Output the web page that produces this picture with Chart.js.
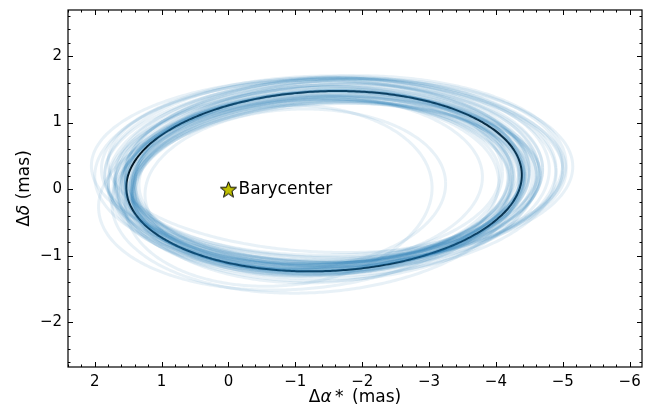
<!DOCTYPE html>
<html>
<head>
<meta charset="utf-8">
<script src="https://cdn.jsdelivr.net/npm/chart.js@4.4.1/dist/chart.umd.min.js"></script>
<style>
  html, body { margin: 0; padding: 0; background: #fff; }
  #wrap { width: 652px; height: 413px; }
</style>
</head>
<body>
<div id="wrap"><canvas id="orbit"></canvas></div>
<script>
// axis ticks (mas)
const xTicks = [2, 1, 0, -1, -2, -3, -4, -5, -6]
const yTicks = [-2, -1, 0, 1, 2]
const xRange = [-6.185, 2.40]
const yRange = [-2.67, 2.69]

// posterior orbit draws: centre, semi-axes along RA / Dec, tilt (rad)
const orbitCx   = [-1.45, -1.30, -1.50, -1.60, -1.40, -1.55, -1.65, -1.50, -1.20, -1.35, -1.70, -1.45, -1.25, -1.80, -1.40, -1.55, -1.10, -1.00, -0.75, -1.30, -1.60, -1.45, -1.35, -1.50, -1.75, -1.40, -1.30, -1.55, -1.05, -1.60,
                   -1.48, -1.38, -1.52, -1.42, -1.58, -1.33, -1.47, -1.62, -1.44, -1.36, -1.55, -1.50, -1.28, -1.66, -1.41, -1.53, -1.46, -1.39,
                   -1.43, -1.40, -1.47, -1.38, -1.45, -1.50, -1.35, -1.42]
const orbitCy   = [0.20, 0.15, 0.25, 0.22, 0.18, 0.30, 0.28, 0.32, 0.15, 0.10, 0.20, 0.12, 0.22, 0.25, 0.05, 0.18, 0.10, 0.00, -0.10, -0.05, 0.35, 0.26, 0.20, 0.15, 0.30, 0.24, 0.08, 0.20, -0.08, 0.12,
                   0.10, 0.14, 0.08, 0.05, 0.16, 0.10, 0.12, 0.15, 0.06, 0.10, 0.18, 0.04, 0.12, 0.14, 0.08, 0.20, 0.02, 0.10,
                   0.12, 0.15, 0.10, 0.13, 0.18, 0.12, 0.08, 0.16]
const orbitA    = [3.05, 3.10, 3.20, 3.30, 2.95, 3.45, 3.50, 3.55, 2.90, 3.00, 3.10, 3.15, 3.25, 3.20, 2.85, 3.35, 2.70, 2.25, 2.30, 3.05, 3.40, 3.00, 3.15, 3.05, 3.30, 3.25, 2.95, 3.15, 3.00, 3.05,
                   2.90, 2.85, 2.98, 2.80, 3.02, 2.88, 2.92, 3.05, 2.84, 2.82, 3.06, 2.94, 2.78, 3.00, 2.86, 3.10, 2.90, 2.80,
                   2.98, 3.02, 2.94, 3.06, 3.00, 2.92, 3.08, 2.96]
const orbitB    = [1.40, 1.38, 1.42, 1.45, 1.35, 1.40, 1.38, 1.35, 1.40, 1.32, 1.45, 1.50, 1.42, 1.40, 1.45, 1.48, 1.30, 1.20, 1.35, 1.50, 1.30, 1.36, 1.33, 1.42, 1.40, 1.44, 1.38, 1.37, 1.42, 1.46,
                   1.22, 1.26, 1.20, 1.28, 1.24, 1.30, 1.18, 1.22, 1.32, 1.25, 1.20, 1.27, 1.23, 1.29, 1.21, 1.19, 1.31, 1.24,
                   1.35, 1.32, 1.38, 1.34, 1.30, 1.37, 1.36, 1.33]
const orbitTilt = [0.03, 0.05, 0.02, 0.03, 0.06, 0.00, 0.02, -0.01, 0.04, 0.05, 0.04, 0.03, 0.01, 0.05, 0.06, 0.02, 0.04, 0.05, 0.08, 0.07, -0.02, 0.02, 0.04, 0.03, 0.03, 0.01, 0.05, 0.04, 0.08, 0.05,
                   0.04, 0.03, 0.05, 0.02, 0.03, 0.05, 0.04, 0.02, 0.06, 0.03, 0.01, 0.05, 0.04, 0.03, 0.05, 0.02, 0.06, 0.04,
                   0.04, 0.05, 0.03, 0.04, 0.03, 0.05, 0.04, 0.03]

// best fit orbit
const bestCx = -1.43, bestCy = 0.12, bestA = 2.96, bestB = 1.35, bestTilt = 0.04

const barycenter = [{ x: 0, y: 0 }]

function ellipse(cx, cy, a, b, tilt) {
  let pts = []
  let c = Math.cos(tilt), s = Math.sin(tilt)
  for (let i = 0; i <= 240; i++) {
    let t = i / 240 * 2 * Math.PI
    let u = a * Math.cos(t), v = b * Math.sin(t)
    pts.push({ x: cx - (u * c - v * s), y: cy + (u * s + v * c) })
  }
  return pts
}

// filled star marker
function starMarker(size) {
  let cv = document.createElement('canvas')
  cv.width = size + 4
  cv.height = size + 4
  let g = cv.getContext('2d')
  let cx = cv.width / 2, cy = cv.height / 2 + 1
  let R = size / 2, r = R * 0.42
  g.beginPath()
  for (let i = 0; i < 10; i++) {
    let ang = -Math.PI / 2 + i * Math.PI / 5
    let rr = i % 2 === 0 ? R : r
    g.lineTo(cx + rr * Math.cos(ang), cy + rr * Math.sin(ang))
  }
  g.closePath()
  g.fillStyle = '#bfbf00'
  g.fill()
  g.lineWidth = 1
  g.strokeStyle = '#000'
  g.stroke()
  return cv
}

let datasets = []
for (let i = 0; i < orbitCx.length; i++) {
  datasets.push({
    data: ellipse(orbitCx[i], orbitCy[i], orbitA[i], orbitB[i], orbitTilt[i]),
    borderColor: 'rgba(31,119,180,0.1)',
    borderWidth: 3,
    pointRadius: 0,
    showLine: true,
    tension: 0.2
  })
}
datasets.push({
  data: ellipse(bestCx, bestCy, bestA, bestB, bestTilt),
  borderColor: '#000',
  borderWidth: 2,
  pointRadius: 0,
  showLine: true,
  tension: 0.2
})
datasets.push({
  data: barycenter,
  pointStyle: starMarker(17),
  pointRadius: 9,
  showLine: false
})

const minus = v => String(v).replace('-', '\u2212')

// frame, inward ticks, axis titles and the barycenter label
const decor = {
  id: 'decor',
  afterDatasetsDraw(chart) {
    let ctx = chart.ctx
    let a = chart.chartArea
    let xs = chart.scales.x, ys = chart.scales.y
    ctx.save()
    ctx.strokeStyle = '#000'
    ctx.lineWidth = 1.2
    ctx.strokeRect(a.left, a.top, a.right - a.left, a.bottom - a.top)
    ctx.lineWidth = 1
    ctx.beginPath()
    for (let i = Math.ceil(xRange[0] * 5); i <= Math.floor(xRange[1] * 5); i++) {
      let px = Math.round(xs.getPixelForValue(i / 5)) + 0.5
      let len = i % 5 === 0 ? 5 : 2.5
      ctx.moveTo(px, a.bottom); ctx.lineTo(px, a.bottom - len)
      ctx.moveTo(px, a.top); ctx.lineTo(px, a.top + len)
    }
    for (let i = Math.ceil(yRange[0] * 5); i <= Math.floor(yRange[1] * 5); i++) {
      let py = Math.round(ys.getPixelForValue(i / 5)) + 0.5
      let len = i % 5 === 0 ? 5 : 2.5
      ctx.moveTo(a.left, py); ctx.lineTo(a.left + len, py)
      ctx.moveTo(a.right, py); ctx.lineTo(a.right - len, py)
    }
    ctx.stroke()

    // label beside the star
    ctx.fillStyle = '#000'
    ctx.font = '17px "DejaVu Sans"'
    ctx.textBaseline = 'middle'
    ctx.textAlign = 'left'
    ctx.fillText('Barycenter', xs.getPixelForValue(0) + 10, ys.getPixelForValue(0))

    // axis titles with italic greek letters
    function drawTitle(segs, x, y, rot) {
      ctx.save()
      ctx.translate(x, y)
      ctx.rotate(rot)
      let w = 0
      segs.forEach(s => { ctx.font = s[1] + ' 17px "DejaVu Sans"'; w += ctx.measureText(s[0]).width })
      let cur = -w / 2
      ctx.textAlign = 'left'
      ctx.textBaseline = 'middle'
      segs.forEach(s => {
        ctx.font = s[1] + ' 17px "DejaVu Sans"'
        ctx.fillText(s[0], cur, 0)
        cur += ctx.measureText(s[0]).width
      })
      ctx.restore()
    }
    drawTitle([['\u0394', 'normal'], ['\u03b1', 'italic'], ['\u2009*\u2002(mas)', 'normal']], (a.left + a.right) / 2, 398, 0)
    drawTitle([['\u0394', 'normal'], ['\u03b4', 'italic'], [' (mas)', 'normal']], 25, (a.top + a.bottom) / 2, -Math.PI / 2)
    ctx.restore()
  }
}

new Chart(document.getElementById('orbit'), {
  type: 'scatter',
  data: { datasets: datasets },
  options: {
    responsive: true,
    maintainAspectRatio: false,
    animation: false,
    devicePixelRatio: 1,
    layout: { padding: { left: 0, top: 6, right: 10, bottom: 0 } },
    plugins: { legend: { display: false }, tooltip: { enabled: false } },
    scales: {
      x: {
        type: 'linear',
        reverse: true,
        min: xRange[0],
        max: xRange[1],
        grid: { display: false, drawTicks: false },
        border: { display: false },
        afterBuildTicks: s => { s.ticks = xTicks.map(v => ({ value: v })) },
        afterFit: s => { s.height = 46; s.paddingLeft = 0; s.paddingRight = 0 },
        ticks: {
          padding: 6,
          color: '#000',
          maxRotation: 0,
          font: { family: 'DejaVu Sans', size: 15 },
          callback: v => minus(v)
        }
      },
      y: {
        type: 'linear',
        min: yRange[0],
        max: yRange[1],
        grid: { display: false, drawTicks: false },
        border: { display: false },
        afterBuildTicks: s => { s.ticks = yTicks.map(v => ({ value: v })) },
        afterFit: s => { s.width = 68; s.paddingTop = 0; s.paddingBottom = 0 },
        ticks: {
          padding: 6,
          color: '#000',
          font: { family: 'DejaVu Sans', size: 15 },
          callback: v => minus(v)
        }
      }
    }
  },
  plugins: [decor]
})
</script>
</body>
</html>
